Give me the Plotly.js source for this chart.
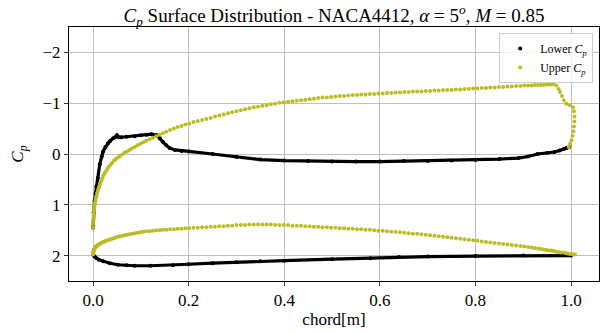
<!DOCTYPE html>
<html>
<head>
<meta charset="utf-8">
<script src="https://cdn.plot.ly/plotly-3.0.1.min.js"></script>
<style>
  html, body { margin: 0; padding: 0; background: #fff; }
  #chart { width: 601px; height: 332px; }
</style>
</head>
<body>
<div id="chart"></div>
<script>
// ---- Data ----
// chord stations shared by the two "Upper Cp" branches
const chord = [
  0, 0.0002, 0.0004, 0.0007, 0.001, 0.0014, 0.0019, 0.0025, 0.0032, 0.004,
  0.005, 0.006, 0.0072, 0.0085, 0.01, 0.0115, 0.013, 0.015, 0.017, 0.019,
  0.0215, 0.024, 0.027, 0.03, 0.033, 0.0365, 0.04, 0.044, 0.048, 0.052,
  0.0565, 0.061, 0.066, 0.071, 0.076, 0.081, 0.087, 0.093, 0.099, 0.105,
  0.111, 0.118, 0.125, 0.132, 0.139, 0.146, 0.153, 0.161, 0.169, 0.177,
  0.185, 0.193, 0.201,
  0.21, 0.219, 0.228, 0.237, 0.246, 0.255, 0.264, 0.273, 0.282, 0.291,
  0.30, 0.309, 0.318, 0.327, 0.336, 0.345, 0.354, 0.363, 0.372, 0.381,
  0.39, 0.399, 0.408, 0.417, 0.426, 0.435, 0.444, 0.453, 0.462, 0.471,
  0.48, 0.489, 0.498, 0.507, 0.516, 0.525, 0.534, 0.543, 0.552, 0.561,
  0.57, 0.579, 0.588, 0.597, 0.606, 0.615, 0.624, 0.633, 0.642, 0.651,
  0.66, 0.669, 0.678, 0.687, 0.696, 0.705, 0.714, 0.723, 0.732, 0.741,
  0.75, 0.759, 0.768, 0.777, 0.786, 0.795, 0.804, 0.813, 0.822, 0.831,
  0.84, 0.849, 0.858, 0.867, 0.876, 0.885, 0.894,
  0.902, 0.91, 0.917, 0.924, 0.931, 0.937, 0.943, 0.949, 0.954, 0.959, 0.963
];
// Upper Cp, suction branch (values at chord stations)
const upperCpSuction = [
  1.45, 1.38, 1.32, 1.26, 1.21, 1.16, 1.11, 1.06, 1.01, 0.96,
  0.91, 0.86, 0.82, 0.77, 0.72, 0.67, 0.63, 0.58, 0.53, 0.48,
  0.43, 0.38, 0.34, 0.29, 0.25, 0.21, 0.17, 0.13, 0.10, 0.07,
  0.04, 0.01, -0.03, -0.05, -0.08, -0.11, -0.14, -0.17, -0.20, -0.23,
  -0.26, -0.29, -0.32, -0.35, -0.38, -0.41, -0.44, -0.47, -0.50, -0.53,
  -0.55, -0.58, -0.60,
  -0.63, -0.65, -0.67, -0.69, -0.71, -0.74, -0.76, -0.78, -0.80, -0.82,
  -0.84, -0.86, -0.88, -0.90, -0.92, -0.93, -0.95, -0.96, -0.98, -0.99,
  -1.01, -1.02, -1.03, -1.04, -1.05, -1.06, -1.07, -1.08, -1.09, -1.10,
  -1.11, -1.11, -1.12, -1.13, -1.14, -1.14, -1.15, -1.16, -1.16, -1.17,
  -1.17, -1.18, -1.18, -1.19, -1.19, -1.20, -1.20, -1.21, -1.21, -1.22,
  -1.22, -1.23, -1.23, -1.23, -1.24, -1.24, -1.25, -1.25, -1.26, -1.26,
  -1.26, -1.27, -1.27, -1.28, -1.28, -1.29, -1.29, -1.30, -1.30, -1.31,
  -1.31, -1.32, -1.32, -1.33, -1.33, -1.34, -1.34,
  -1.35, -1.35, -1.35, -1.36, -1.36, -1.36, -1.36, -1.37, -1.37, -1.37, -1.38
];
// Upper Cp, lower loop branch (values at chord stations)
const upperCpLoop = [
  1.98, 1.96, 1.94, 1.92, 1.91, 1.89, 1.88, 1.87, 1.86, 1.85,
  1.83, 1.82, 1.81, 1.80, 1.79, 1.78, 1.77, 1.76, 1.75, 1.74,
  1.73, 1.72, 1.71, 1.70, 1.69, 1.68, 1.67, 1.66, 1.64, 1.63,
  1.62, 1.61, 1.60, 1.59, 1.58, 1.57, 1.56, 1.55, 1.54, 1.53,
  1.52, 1.52, 1.51, 1.50, 1.50, 1.49, 1.49, 1.48, 1.48, 1.47,
  1.47, 1.46, 1.46,
  1.45, 1.45, 1.44, 1.44, 1.43, 1.43, 1.42, 1.42, 1.41, 1.41,
  1.40, 1.40, 1.40, 1.39, 1.39, 1.39, 1.39, 1.39, 1.39, 1.40,
  1.40, 1.40, 1.40, 1.41, 1.41, 1.41, 1.42, 1.42, 1.43, 1.43,
  1.44, 1.44, 1.45, 1.45, 1.46, 1.46, 1.47, 1.47, 1.48, 1.48,
  1.49, 1.49, 1.50, 1.51, 1.51, 1.52, 1.53, 1.53, 1.54, 1.55,
  1.56, 1.57, 1.57, 1.58, 1.59, 1.60, 1.61, 1.62, 1.63, 1.64,
  1.65, 1.66, 1.67, 1.68, 1.69, 1.70, 1.71, 1.72, 1.73, 1.74,
  1.75, 1.76, 1.77, 1.78, 1.79, 1.80, 1.81,
  1.82, 1.83, 1.84, 1.85, 1.86, 1.87, 1.88, 1.89, 1.90, 1.90, 1.91
];
// trailing-edge hook of the Upper Cp suction branch
const hookChord = [0.969, 0.974, 0.977, 0.981, 0.985, 0.990, 0.997, 1.004, 1.006, 1.007,
                   1.007, 1.006, 1.005, 1.003, 1.001, 0.998, 0.995];
const hookCp    = [-1.35, -1.28, -1.22, -1.14, -1.06, -0.99, -0.96, -0.92, -0.84, -0.74,
                   -0.64, -0.54, -0.45, -0.36, -0.27, -0.20, -0.14];
// trailing-edge tail of the Upper Cp loop branch
const tailChord = [0.968, 0.973, 0.978, 0.983, 0.988, 0.993, 0.998, 1.003, 1.008];
const tailCp    = [1.92, 1.93, 1.94, 1.94, 1.95, 1.96, 1.97, 1.97, 1.98];

// Lower Cp, branch near Cp = 0
const lowerChordA = [
  0, 0.001, 0.003, 0.005, 0.007, 0.01, 0.014, 0.018, 0.021, 0.026,
  0.031, 0.036, 0.042, 0.046, 0.05, 0.054, 0.059, 0.07, 0.087, 0.1,
  0.112, 0.122, 0.133, 0.14, 0.146, 0.153, 0.16, 0.171, 0.185, 0.2,
  0.25, 0.3, 0.35, 0.4, 0.45, 0.5, 0.55, 0.6, 0.65, 0.7,
  0.75, 0.8, 0.85, 0.89, 0.91, 0.93, 0.95, 0.965, 0.976, 0.985,
  0.991, 0.996
];
const lowerCpA = [
  1.45, 1.15, 0.92, 0.78, 0.64, 0.47, 0.20, 0.05, -0.05, -0.14,
  -0.21, -0.26, -0.31, -0.33, -0.37, -0.33, -0.33, -0.34, -0.35, -0.37,
  -0.38, -0.39, -0.37, -0.31, -0.24, -0.17, -0.12, -0.08, -0.06, -0.05,
  0.00, 0.06, 0.11, 0.13, 0.14, 0.15, 0.15, 0.15, 0.14, 0.14,
  0.13, 0.12, 0.10, 0.08, 0.05, 0.00, -0.02, -0.04, -0.07, -0.10,
  -0.12, -0.14
];
// Lower Cp, branch near Cp = 2
const lowerChordB = [0, 0.003, 0.007, 0.012, 0.021, 0.035, 0.052, 0.07, 0.087, 0.12,
                     0.167, 0.2, 0.25, 0.3, 0.35, 0.4, 0.5, 0.58, 0.64, 0.7,
                     0.8, 0.9, 1.0];
const lowerCpB = [1.98, 2.02, 2.05, 2.08, 2.11, 2.15, 2.18, 2.19, 2.20, 2.20,
                  2.19, 2.17, 2.15, 2.13, 2.11, 2.10, 2.07, 2.05, 2.03, 2.02,
                  2.01, 2.00, 2.00];

const xTicks = [0, 0.2, 0.4, 0.6, 0.8, 1.0];
const xTickText = ['0.0', '0.2', '0.4', '0.6', '0.8', '1.0'];
const yTicks = [-2, -1, 0, 1, 2];

// ---- Build traces ----
const OLIVE = '#bcbd22';
const lowerX = lowerChordA.concat([null], lowerChordB);
const lowerY = lowerCpA.concat([null], lowerCpB);
const upperX = chord.concat(hookChord, [null], chord, tailChord);
const upperY = upperCpSuction.concat(hookCp, [null], upperCpLoop, tailCp);

const SERIF = 'Liberation Serif, DejaVu Serif, serif';

const traces = [
  { x: lowerX, y: lowerY, mode: 'lines', type: 'scatter',
    line: { color: '#000', width: 3.2 }, showlegend: false,
    hoverinfo: 'skip' },
  { x: lowerX, y: lowerY, mode: 'markers', type: 'scatter',
    name: 'Lower <i>C<sub>p</sub></i>',
    marker: { color: '#000', size: 4 } },
  { x: upperX, y: upperY, mode: 'markers', type: 'scatter',
    name: 'Upper <i>C<sub>p</sub></i>',
    marker: { color: OLIVE, size: 4 } }
];

const axisCommon = {
  showline: true, linecolor: '#000', linewidth: 1, mirror: true,
  ticks: 'outside', ticklen: 4, tickwidth: 0.8, tickcolor: '#000',
  showgrid: true, gridcolor: '#b0b0b0', gridwidth: 0.8,
  zeroline: false,
  tickfont: { family: SERIF, size: 17, color: '#000' }
};

const layout = {
  width: 601, height: 332,
  margin: { l: 69, r: 2, t: 27, b: 51 },
  paper_bgcolor: '#fff', plot_bgcolor: '#fff',
  title: {
    text: '<i>C<sub>p</sub></i> Surface Distribution - NACA4412, <i>α</i> = 5<sup><i>o</i></sup>, <i>M</i> = 0.85',
    font: { family: SERIF, size: 19, color: '#000' },
    x: 0.5, xref: 'paper', xanchor: 'center',
    y: 0.955, yref: 'container', yanchor: 'middle'
  },
  xaxis: Object.assign({}, axisCommon, {
    range: [-0.0504, 1.0584],
    tickvals: xTicks, ticktext: xTickText,
    title: { text: 'chord[m]', font: { family: SERIF, size: 17, color: '#000' }, standoff: 3 }
  }),
  yaxis: Object.assign({}, axisCommon, {
    range: [2.5, -2.5],
    tickvals: yTicks,
    title: { text: '<i>C<sub>p</sub></i>', font: { family: SERIF, size: 17, color: '#000' }, standoff: 14 }
  }),
  legend: {
    x: 0.989, y: 0.976, xanchor: 'right', yanchor: 'top',
    bgcolor: 'rgba(255,255,255,0.8)', bordercolor: '#cccccc', borderwidth: 1,
    font: { family: SERIF, size: 12, color: '#000' },
    itemwidth: 30
  },
  showlegend: true
};

Plotly.newPlot('chart', traces, layout, { staticPlot: true, displayModeBar: false });
</script>
</body>
</html>
